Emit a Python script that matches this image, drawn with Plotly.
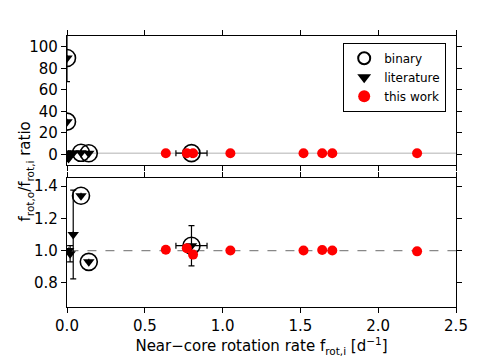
import plotly.graph_objects as go
from plotly.subplots import make_subplots

# binary systems (open circles)
bin_x = [0.0, 0.0, 0.09, 0.14, 0.80]
bin_y = [89.5, 30.3, 1.34, 0.93, 1.03]

# literature values
lit_x = [0.0, 0.0, 0.01, 0.02, 0.04, 0.09, 0.14, 0.80, 0.01]
lit_y = [89.5, 30.3, 1.00, 0.98, 1.10, 1.34, 0.93, 1.03, -4.0]
lit_yerr = [22.0, 0.0, 0.0, 0.05, 0.275, 0.0, 0.0, 0.125, 0.0]
lit_xerr = [0.0, 0.0, 0.0, 0.0, 0.0, 0.0, 0.0, 0.10, 0.0]

# this work
tw_x = [0.635, 0.77, 0.81, 1.05, 1.52, 1.64, 1.705, 2.25]
tw_y = [1.005, 1.015, 0.975, 1.0, 1.0, 1.003, 1.0, 0.995]
tw_yerr = [0.004, 0.004, 0.004, 0.003, 0.003, 0.003, 0.003, 0.003]

fnt = dict(family="DejaVu Sans", size=15, color="black")

fig = make_subplots(rows=2, cols=1, vertical_spacing=0.048)

for row in (1, 2):
    first = row == 1
    # reference line at ratio 1
    fig.add_trace(go.Scatter(
        x=[-0.1, 2.6], y=[1, 1], mode="lines", showlegend=False, hoverinfo="skip",
        line=dict(color="#cccccc" if first else "#888888", width=1.5 if first else 1.2,
                  dash="solid" if first else "dash")), row=row, col=1)
    fig.add_trace(go.Scatter(
        x=bin_x, y=bin_y, mode="markers", name="binary", showlegend=first,
        marker=dict(symbol="circle-open", size=17, color="black", line=dict(width=1.6))),
        row=row, col=1)
    fig.add_trace(go.Scatter(
        x=lit_x, y=lit_y, mode="markers", name="literature", showlegend=first,
        marker=dict(symbol="triangle-down", size=10, color="black"),
        error_y=dict(type="data", array=lit_yerr, color="black", thickness=1.2, width=3),
        error_x=dict(type="data", array=lit_xerr, color="black", thickness=1.2, width=3)),
        row=row, col=1)
    fig.add_trace(go.Scatter(
        x=tw_x, y=tw_y, mode="markers", name="this work", showlegend=first,
        marker=dict(symbol="circle", size=10, color="red"),
        error_y=dict(type="data", array=tw_yerr, color="red", thickness=1.2, width=3)),
        row=row, col=1)

ax = dict(showline=True, mirror="ticks", linecolor="black", linewidth=1.2,
          ticks="outside", ticklen=5, tickwidth=1.2, tickcolor="black",
          showgrid=False, zeroline=False, tickfont=fnt, automargin=False)

fig.update_xaxes(range=[0, 2.5], tickvals=[0, 0.5, 1.0, 1.5, 2.0, 2.5], **ax)
fig.update_xaxes(showticklabels=False, row=1, col=1)
fig.update_xaxes(tickformat=".1f", row=2, col=1,
                 title=dict(text="Near\u2212core rotation rate f<sub>rot,i</sub> [d<sup>\u22121</sup>]",
                            font=fnt, standoff=6))
fig.update_yaxes(**ax)
fig.update_yaxes(range=[-10, 110], tickvals=[0, 20, 40, 60, 80, 100], row=1, col=1)
fig.update_yaxes(range=[0.65, 1.45], tickvals=[0.8, 1.0, 1.2, 1.4], tickformat=".1f", row=2, col=1)

fig.add_annotation(text="f<sub>rot,o</sub>/f<sub>rot,i</sub> ratio", textangle=-90,
                   xref="paper", yref="paper", x=-0.135, y=0.5, showarrow=False, font=fnt)

fig.update_layout(
    width=480, height=362, margin=dict(l=67, r=24, t=36, b=55),
    paper_bgcolor="white", plot_bgcolor="white", font=fnt,
    legend=dict(x=0.71, y=0.975, xanchor="left", yanchor="top", bgcolor="white",
                bordercolor="black", borderwidth=1, tracegroupgap=0,
                font=dict(family="DejaVu Sans", size=12, color="black"),
                itemsizing="constant"),
)

fig.write_html("out.html", config={"displayModeBar": False},
               post_script="document.body.style.margin='0';")
